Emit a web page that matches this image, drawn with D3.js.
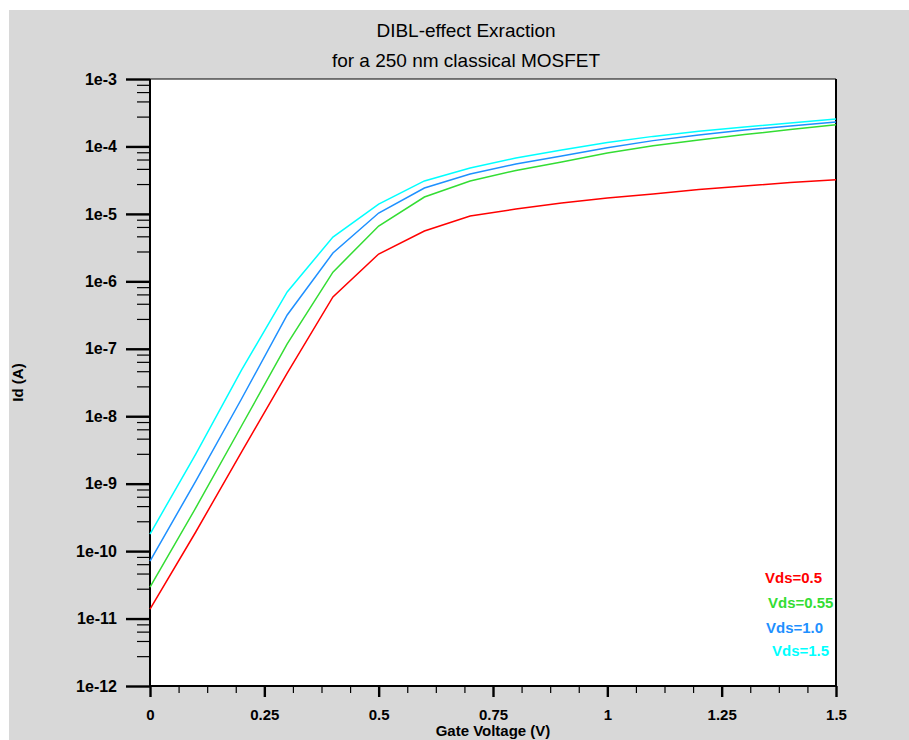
<!DOCTYPE html>
<html>
<head>
<meta charset="utf-8">
<script src="https://cdn.jsdelivr.net/npm/d3@7"></script>
<style>
  html, body { margin: 0; padding: 0; background: #fff; }
  svg text { font-family: "Liberation Sans", Arial, sans-serif; }
</style>
</head>
<body>
<svg id="chart" width="909" height="740"></svg>
<script>
// gate voltage (V)
const gateVoltage = [0, 0.1, 0.2, 0.3, 0.4, 0.5, 0.6, 0.7, 0.8, 0.9, 1.0, 1.1, 1.2, 1.3, 1.4, 1.5];

// drain current (A)
const idVds05 = [1.38e-11, 1.92e-10, 2.94e-9, 4.37e-8, 5.86e-7, 2.54e-6, 5.57e-6, 9.31e-6,
                 1.18e-5, 1.45e-5, 1.72e-5, 1.97e-5, 2.30e-5, 2.59e-5, 2.92e-5, 3.20e-5];
const idVds055 = [2.93e-11, 4.36e-10, 7.16e-9, 1.18e-7, 1.37e-6, 6.61e-6, 1.78e-5, 3.08e-5,
                  4.40e-5, 5.90e-5, 8.0e-5, 1.02e-4, 1.25e-4, 1.50e-4, 1.78e-4, 2.10e-4];
const idVds10 = [7.13e-11, 1.09e-9, 1.80e-8, 3.17e-7, 2.63e-6, 1.03e-5, 2.42e-5, 3.90e-5,
                 5.50e-5, 7.21e-5, 9.60e-5, 1.22e-4, 1.48e-4, 1.75e-4, 2.01e-4, 2.30e-4];
const idVds15 = [1.79e-10, 2.75e-9, 4.84e-8, 6.95e-7, 4.54e-6, 1.40e-5, 3.08e-5, 4.79e-5,
                 6.74e-5, 8.86e-5, 1.14e-4, 1.41e-4, 1.68e-4, 1.94e-4, 2.23e-4, 2.55e-4];

const seriesNames = ["Vds=0.5", "Vds=0.55", "Vds=1.0", "Vds=1.5"];
const seriesColors = ["#ff0000", "#33dd33", "#1e90ff", "#00ffff"];
const seriesValues = [idVds05, idVds055, idVds10, idVds15];

const xTicks = [0, 0.25, 0.5, 0.75, 1, 1.25, 1.5];
const yDecades = [-12, -11, -10, -9, -8, -7, -6, -5, -4, -3];
const yMinorMult = [8.2, 6.4, 4.65, 2.77];

const svg = d3.select("#chart");
const margin = { left: 150, right: 73, top: 79, bottom: 54 };
const W = 909, H = 740;

// grey panel
svg.append("rect")
    .attr("x", 9).attr("y", 10)
    .attr("width", W - 9).attr("height", H - 10)
    .attr("fill", "#d8d8d8");

const x = d3.scaleLinear().domain([0, 1.5]).range([margin.left, W - margin.right]);
const y = d3.scaleLog().domain([1e-12, 1e-3]).range([H - margin.bottom, margin.top]);

// plot area
svg.append("rect")
    .attr("x", x(0)).attr("y", y(1e-3))
    .attr("width", x(1.5) - x(0)).attr("height", y(1e-12) - y(1e-3))
    .attr("fill", "#fff");

// titles
svg.append("text")
    .attr("x", 466).attr("y", 37)
    .attr("text-anchor", "middle")
    .style("font-size", "19px")
    .text("DIBL-effect Exraction");
svg.append("text")
    .attr("x", 466).attr("y", 67)
    .attr("text-anchor", "middle")
    .style("font-size", "19px")
    .text("for a 250 nm classical MOSFET");

// y axis, major + minor ticks
const majors = yDecades.map(k => Math.pow(10, k));
const minors = [];
yDecades.slice(0, -1).forEach(k => {
    yMinorMult.forEach(m => minors.push(m * Math.pow(10, k)));
});

const yMinor = svg.append("g")
    .attr("transform", `translate(${x(0)},0)`)
    .call(d3.axisLeft(y).tickValues(minors).tickSize(13).tickFormat(""));
yMinor.select(".domain").remove();
yMinor.selectAll("line").attr("stroke", "#000").attr("stroke-width", 1.2);

const yMajor = svg.append("g")
    .attr("transform", `translate(${x(0)},0)`)
    .call(d3.axisLeft(y).tickValues(majors).tickSize(24).tickPadding(9)
        .tickFormat(d => "1e" + Math.round(Math.log10(d))));
yMajor.select(".domain").remove();
yMajor.selectAll("line").attr("stroke", "#000").attr("stroke-width", 2.4);
yMajor.selectAll("text")
    .style("font-size", "16px").style("font-weight", "bold")
    .attr("fill", "#000");

// x axis
const xMinorVals = d3.range(0, 1.5001, 0.0625).filter(v => Math.abs(v / 0.25 - Math.round(v / 0.25)) > 1e-6);
const xMinor = svg.append("g")
    .attr("transform", `translate(0,${y(1e-12)})`)
    .call(d3.axisBottom(x).tickValues(xMinorVals).tickSize(7).tickFormat(""));
xMinor.select(".domain").remove();
xMinor.selectAll("line").attr("stroke", "#000").attr("stroke-width", 1.2);

const xMajor = svg.append("g")
    .attr("transform", `translate(0,${y(1e-12)})`)
    .call(d3.axisBottom(x).tickValues(xTicks).tickSize(11).tickPadding(12).tickFormat(d => String(d)));
xMajor.select(".domain").remove();
xMajor.selectAll("line").attr("stroke", "#000").attr("stroke-width", 2.4);
xMajor.selectAll("text")
    .style("font-size", "15px").style("font-weight", "bold")
    .attr("fill", "#000");

// frame
svg.append("line")
    .attr("x1", x(0)).attr("x2", x(1.5)).attr("y1", y(1e-3)).attr("y2", y(1e-3))
    .attr("stroke", "#000").attr("stroke-width", 1);
svg.append("line")
    .attr("x1", x(1.5)).attr("x2", x(1.5)).attr("y1", y(1e-3)).attr("y2", y(1e-12))
    .attr("stroke", "#000").attr("stroke-width", 2);
svg.append("line")
    .attr("x1", x(0)).attr("x2", x(0)).attr("y1", y(1e-3)).attr("y2", y(1e-12))
    .attr("stroke", "#000").attr("stroke-width", 2);
svg.append("line")
    .attr("x1", x(0)).attr("x2", x(1.5)).attr("y1", y(1e-12)).attr("y2", y(1e-12))
    .attr("stroke", "#000").attr("stroke-width", 2);

// axis titles
svg.append("text")
    .attr("x", (x(0) + x(1.5)) / 2).attr("y", 736)
    .attr("text-anchor", "middle")
    .style("font-size", "15px").style("font-weight", "bold")
    .text("Gate Voltage (V)");
svg.append("text")
    .attr("transform", `translate(23,${(y(1e-3) + y(1e-12)) / 2}) rotate(-90)`)
    .attr("text-anchor", "middle")
    .style("font-size", "15px").style("font-weight", "bold")
    .text("Id (A)");

// curves
const line = d3.line()
    .x(d => x(d[0]))
    .y(d => y(d[1]));

seriesValues.forEach((vals, i) => {
    svg.append("path")
        .datum(gateVoltage.map((v, j) => [v, vals[j]]))
        .attr("fill", "none")
        .attr("stroke", seriesColors[i])
        .attr("stroke-width", 1.5)
        .attr("d", line);
});

// legend
const legendX = [765, 768, 766, 772];
const legendY = [583, 608, 633, 656];
seriesNames.forEach((name, i) => {
    svg.append("text")
        .attr("x", legendX[i]).attr("y", legendY[i])
        .attr("fill", seriesColors[i])
        .style("font-size", "15px").style("font-weight", "bold")
        .text(name);
});
</script>
</body>
</html>
